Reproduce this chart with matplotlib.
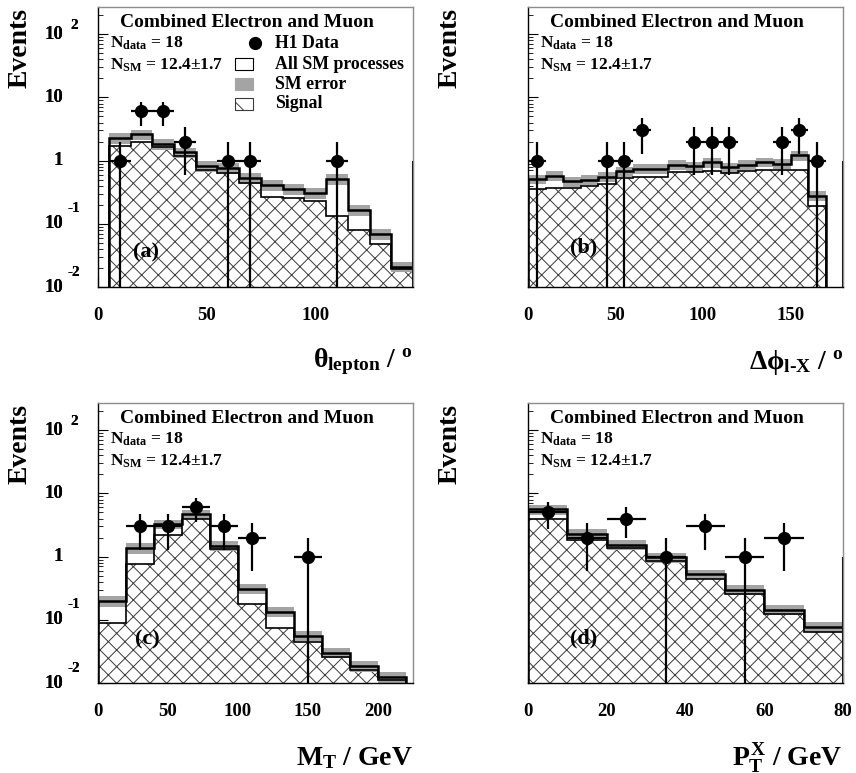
import numpy as np
import matplotlib
matplotlib.use("Agg")
import matplotlib.pyplot as plt
from matplotlib.patches import Rectangle
import matplotlib.transforms as mtransforms
from matplotlib.ticker import LogLocator, MultipleLocator, NullFormatter

plt.rcParams['font.family'] = ['Liberation Serif', 'DejaVu Serif']
plt.rcParams['font.weight'] = 'bold'
plt.rcParams['mathtext.fontset'] = 'custom'
plt.rcParams['mathtext.rm'] = 'Liberation Serif:bold'
plt.rcParams['mathtext.it'] = 'Liberation Serif:bold'
plt.rcParams['mathtext.bf'] = 'Liberation Serif:bold'
plt.rcParams['hatch.linewidth'] = 0.7

# ---------------- data ----------------
# (a) theta_lepton
a_edges = np.arange(5, 146, 10)
a_sm = [2.3, 2.6, 1.86, 1.35, 0.83, 0.77, 0.53, 0.41, 0.36, 0.31, 0.51, 0.167, 0.069, 0.021]
a_err = [0.45, 0.5, 0.36, 0.26, 0.16, 0.15, 0.1, 0.08, 0.07, 0.06, 0.1, 0.032, 0.013, 0.004]
a_sig = [1.7, 2.0, 1.65, 1.17, 0.72, 0.64, 0.45, 0.265, 0.256, 0.226, 0.134, 0.08, 0.048, 0.019]
a_x = [10, 20, 30, 40, 60, 70, 110]
a_n = [1, 6, 6, 2, 1, 1, 1]

# (b) delta phi
b_edges = np.arange(0, 171, 10)
b_sm = [0.51, 0.58, 0.47, 0.50, 0.56, 0.68, 0.74, 0.74, 0.86, 0.81, 0.94, 0.78, 0.86, 0.95, 0.90, 1.21, 0.28]
b_err = [0.09, 0.1, 0.085, 0.09, 0.1, 0.12, 0.13, 0.13, 0.15, 0.15, 0.17, 0.14, 0.15, 0.17, 0.16, 0.22, 0.05]
b_sig = [0.355, 0.37, 0.37, 0.39, 0.42, 0.53, 0.55, 0.56, 0.65, 0.65, 0.68, 0.64, 0.68, 0.70, 0.70, 0.71, 0.19]
b_x = [5, 45, 55, 65, 95, 105, 115, 145, 155, 165]
b_n = [1, 1, 1, 3, 2, 2, 2, 2, 3, 1]

# (c) M_T
c_edges = np.arange(0, 221, 20)
c_sm = [0.20, 1.37, 3.3, 4.7, 1.48, 0.31, 0.135, 0.056, 0.030, 0.0186, 0.0123]
c_err = [0.04, 0.25, 0.55, 0.8, 0.27, 0.055, 0.025, 0.01, 0.0055, 0.0035, 0.0025]
c_sig = [0.089, 0.77, 2.23, 3.87, 1.33, 0.177, 0.075, 0.044, 0.026, 0.016, 0.011]
c_x = [30, 50, 70, 90, 110, 150]
c_n = [3, 3, 6, 3, 2, 1]

# (d) P_T^X
d_edges = np.arange(0, 81, 10)
d_sm = [5.6, 2.3, 1.55, 0.97, 0.53, 0.30, 0.144, 0.078]
d_err = [1.0, 0.4, 0.28, 0.17, 0.095, 0.055, 0.026, 0.014]
d_sig = [4.0, 1.8, 1.39, 0.84, 0.44, 0.26, 0.125, 0.065]
d_x = [5, 15, 25, 35, 45, 55, 65]
d_n = [5, 2, 4, 1, 3, 1, 2]

panels = [
    dict(edges=a_edges, sm=a_sm, err=a_err, sig=a_sig, x=a_x, n=a_n, xlim=(0, 145),
         xticks=[0, 50, 100], minor=10, tag='(a)', xlabel=r'$\theta_{lepton}$ / $^{o}$',
         rect=(98, 7), tagpos=(0.111, 0.125), rightline=True),
    dict(edges=b_edges, sm=b_sm, err=b_err, sig=b_sig, x=b_x, n=b_n, xlim=(0, 180),
         xticks=[0, 50, 100, 150], minor=10, tag='(b)', xlabel=r'$\Delta\phi_{l\text{-}X}$ / $^{o}$',
         rect=(528, 7), tagpos=(0.133, 0.14), rightline=True),
    dict(edges=c_edges, sm=c_sm, err=c_err, sig=c_sig, x=c_x, n=c_n, xlim=(0, 225),
         xticks=[0, 50, 100, 150, 200], minor=10, tag='(c)', xlabel=r'$M_{T}$ / GeV',
         rect=(98, 403), tagpos=(0.117, 0.154), rightline=False),
    dict(edges=d_edges, sm=d_sm, err=d_err, sig=d_sig, x=d_x, n=d_n, xlim=(0, 80),
         xticks=[0, 20, 40, 60, 80], minor=4, tag='(d)', xlabel=r'$P_{T}^{X}$ / GeV',
         rect=(528, 403), tagpos=(0.133, 0.16), rightline=True),
]

W, H = 856, 773
fig = plt.figure(figsize=(W / 100, H / 100), dpi=100)

YMIN, YMAX = 0.01, 270
ylabels = [(100, '10', '2', 9), (10, '10', '', 0), (1, '1', '', 0), (0.1, '10', '-1', 15), (0.01, '10', '-2', 15)]

for i, p in enumerate(panels):
    lx, ty = p['rect']
    ax = fig.add_axes([lx / W, 1 - (ty + 280) / H, 315 / W, 280 / H])
    ax.set_yscale('log')
    ax.set_ylim(YMIN, YMAX)
    ax.set_xlim(*p['xlim'])
    edges = p['edges']
    sm = np.array(p['sm'])
    err = np.array(p['err'])
    sig = np.array(p['sig'])
    base = 1e-5
    ax.stairs(sm, edges, baseline=base, fill=True, facecolor='white', edgecolor='none', zorder=1)
    ax.stairs(sig, edges, baseline=base, fill=True, facecolor='white', edgecolor='#3a3a3a',
              hatch='xx', linewidth=0, zorder=2)
    ax.stairs(sm + err, edges, baseline=sm - err, fill=True, facecolor='#a4a4a4',
              edgecolor='none', zorder=3)
    ax.stairs(sig, edges, baseline=base, color='black', linewidth=1.2, zorder=4)
    ax.stairs(sm, edges, baseline=base, color='black', linewidth=1.8, zorder=5)
    if p['rightline']:
        ax.vlines(p['xlim'][1], YMIN, 1, color='black', linewidth=1.5, zorder=6, clip_on=False)

    n = np.array(p['n'], dtype=float)
    hi = np.sqrt(n)
    lo = n - np.maximum(n - np.sqrt(n), 1e-5)
    half = (edges[1] - edges[0]) / 2
    ax.errorbar(p['x'], n, xerr=half, yerr=[lo, hi], fmt='o', color='black', ms=8.5,
                elinewidth=1.6, capsize=0, zorder=8)

    for s in ['top', 'right']:
        ax.spines[s].set_color('#8c8c8c')
    for s in ['left', 'bottom']:
        ax.spines[s].set_color('black')
    for s in ax.spines.values():
        s.set_linewidth(1.0)
        s.set_zorder(7)
    ax.yaxis.set_major_locator(LogLocator(base=10, numticks=10))
    ax.yaxis.set_minor_locator(LogLocator(base=10, subs=np.arange(2, 10), numticks=20))
    ax.yaxis.set_minor_formatter(NullFormatter())
    ax.set_xticks(p['xticks'])
    ax.xaxis.set_minor_locator(MultipleLocator(p['minor']))
    ax.tick_params(axis='both', which='major', direction='in', length=7, width=0.8,
                   top=False, right=False)
    ax.tick_params(axis='both', which='minor', direction='in', length=3.5, width=0.6,
                   top=False, right=False)
    ax.tick_params(axis='y', which='both', labelleft=False)
    ax.tick_params(axis='x', which='major', labelsize=13.5, pad=14.5)
    for t in ax.get_xticklabels():
        t.set_fontweight('bold')

    ytr = ax.get_yaxis_transform()
    xr = (63 - lx) / 315
    for val, mant, expo, up in ylabels:
        ax.text(xr, val, mant, transform=ytr, ha='right', va='center', fontsize=13.5,
                fontweight='bold', clip_on=False)
        if expo:
            off = mtransforms.offset_copy(ytr, fig=fig, x=7 if expo == '2' else 4, y=up, units='dots')
            ax.text(xr, val, expo, transform=off, ha='left', va='center', fontsize=11,
                    fontweight='bold', clip_on=False)

    fig.text((lx - 78) / W, 1 - (ty + 41) / H, 'Events', rotation=90, ha='center', va='center',
             fontsize=20, fontweight='bold')
    ax.text(1.0, -(75 / 280), p['xlabel'], transform=ax.transAxes, ha='right', va='center',
            fontsize=20, fontweight='bold')

    ax.text(0.473, 0.943, 'Combined Electron and Muon', transform=ax.transAxes, ha='center',
            va='center', fontsize=14, fontweight='bold', zorder=9)
    ax.text(0.038, 0.871, r'N$_{data}$ = 18', transform=ax.transAxes, ha='left', va='center',
            fontsize=12.5, fontweight='bold', zorder=9)
    ax.text(0.038, 0.793, r'N$_{SM}$ = 12.4$\pm$1.7', transform=ax.transAxes, ha='left',
            va='center', fontsize=12.5, fontweight='bold', zorder=9)
    ax.text(p['tagpos'][0], p['tagpos'][1], p['tag'], transform=ax.transAxes, ha='left',
            va='center', fontsize=16, fontweight='bold', zorder=9)

    if i == 0:
        ax.plot([0.498], [0.871], 'o', color='black', ms=8.5, transform=ax.transAxes,
                clip_on=False, zorder=9)
        bx, bw, bh = 0.435, 0.057, 0.043
        ax.add_patch(Rectangle((bx, 0.796 - bh / 2), bw, bh, transform=ax.transAxes,
                               facecolor='white', edgecolor='black', linewidth=0.8, zorder=9))
        ax.add_patch(Rectangle((bx, 0.725 - bh / 2), bw, bh, transform=ax.transAxes,
                               facecolor='#a4a4a4', edgecolor='#a4a4a4', linewidth=0.8, zorder=9))
        ax.add_patch(Rectangle((bx, 0.654 - bh / 2), bw, bh, transform=ax.transAxes,
                               facecolor='white', edgecolor='#3a3a3a', hatch='x',
                               linewidth=0.8, zorder=9))
        for yy, lab in [(0.871, 'H1 Data'), (0.796, 'All SM processes'),
                        (0.725, 'SM error'), (0.654, 'Signal')]:
            ax.text(0.562, yy, lab, transform=ax.transAxes, ha='left', va='center',
                    fontsize=12.8, fontweight='bold', zorder=9)

fig.savefig('out.png', dpi=100)
